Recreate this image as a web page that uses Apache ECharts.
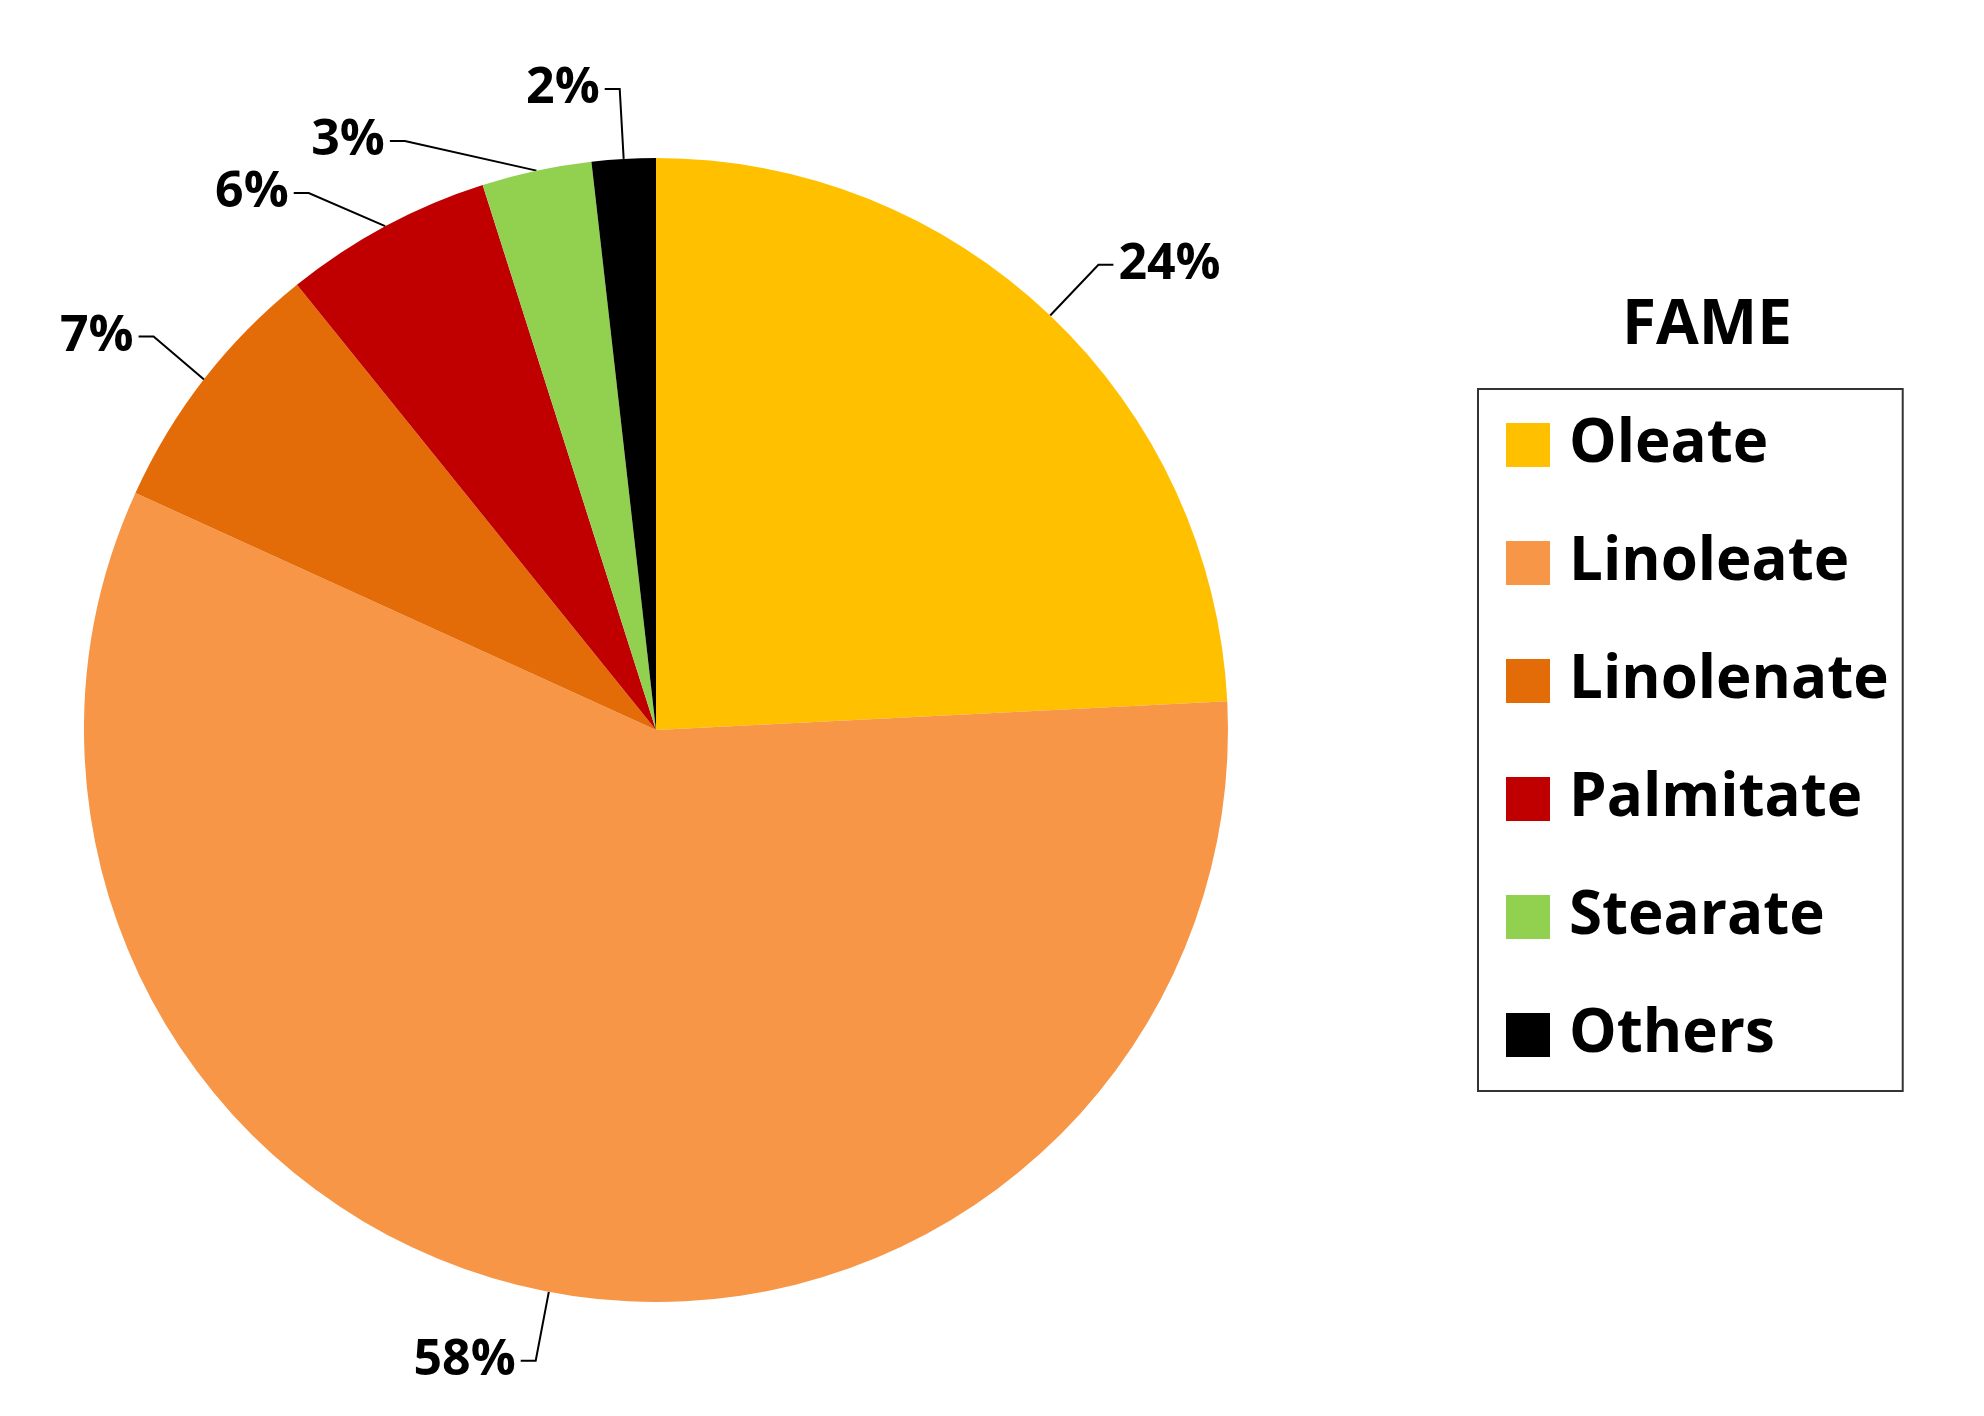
<!DOCTYPE html>
<html>
<head>
<meta charset="utf-8">
<script src="https://cdn.jsdelivr.net/npm/echarts@6/dist/echarts.min.js"></script>
<style>html,body{margin:0;background:#fff}#c{width:1984px;height:1416px}</style>
</head>
<body>
<div id="c"></div>
<script>
// FAME composition
const names = ['Oleate', 'Linoleate', 'Linolenate', 'Palmitate', 'Stearate', 'Others'];
const values = [24.2, 57.6, 7.4, 5.9, 3.1, 1.8];
const colors = ['#FFC000', '#F79646', '#E36C09', '#C00000', '#92D050', '#000000'];

const font = '"Liberation Sans Narrow", "Open Sans", sans-serif';
const chart = echarts.init(document.getElementById('c'));
chart.setOption({
  color: colors,
  title: {
    text: 'FAME', left: 1702, top: 290, textAlign: 'center',
    textStyle: {fontSize: 62, fontWeight: 'bold', fontFamily: font, color: '#000'}
  },
  legend: {
    orient: 'vertical', left: 1478, top: 389,
    padding: [26, 14, 26, 28], itemGap: 58, itemWidth: 44, itemHeight: 44,
    borderColor: '#333', borderWidth: 2, icon: 'rect',
    textStyle: {fontSize: 60, fontWeight: 'bold', fontFamily: font, color: '#000', padding: [0, 0, 0, 14]},
    data: names
  },
  series: [{
    type: 'pie',
    center: [656, 730], radius: 572,
    startAngle: 90, clockwise: true,
    data: names.map((n, i) => ({name: n, value: values[i]})),
    label: {
      formatter: p => Math.round(p.value) + '%',
      fontSize: 50, fontWeight: 'bold', fontFamily: font, color: '#000'
    },
    labelLine: {length: 70, length2: 15, lineStyle: {color: '#000', width: 2}},
    itemStyle: {borderWidth: 0},
    emphasis: {disabled: true}
  }]
});
</script>
</body>
</html>
